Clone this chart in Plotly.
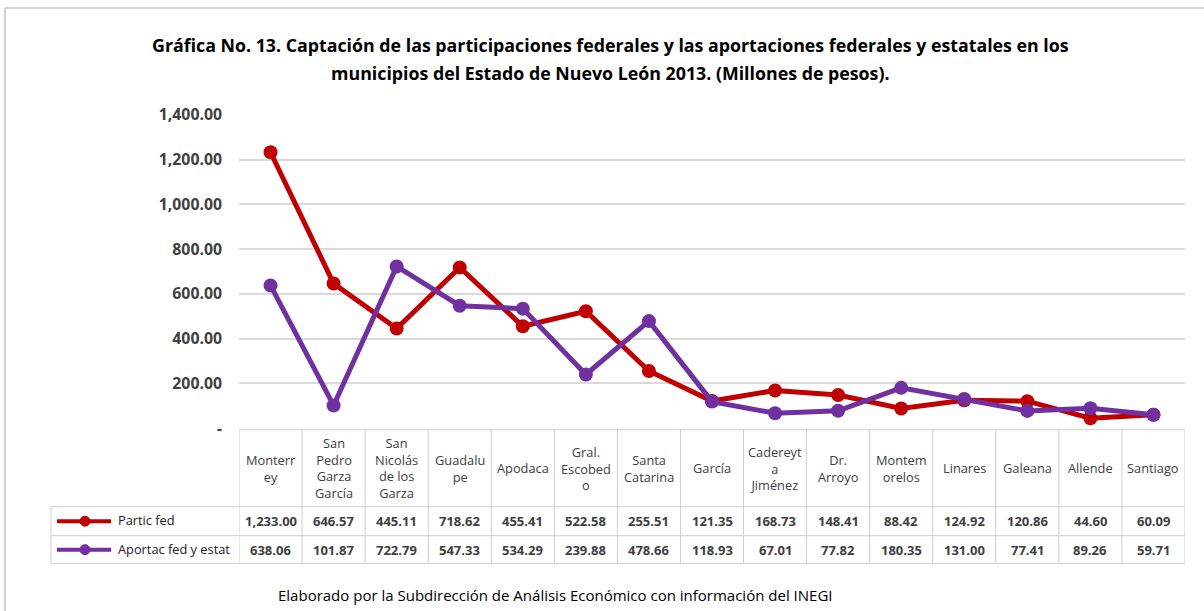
import plotly.graph_objects as go

# data
municipios = ["Monterr<br>ey", "San<br>Pedro<br>Garza<br>García", "San<br>Nicolás<br>de los<br>Garza",
              "Guadalu<br>pe", "Apodaca", "Gral.<br>Escobed<br>o", "Santa<br>Catarina", "García",
              "Cadereyt<br>a<br>Jiménez", "Dr.<br>Arroyo", "Montem<br>orelos", "Linares", "Galeana",
              "Allende", "Santiago"]
partic_fed = [1233.00, 646.57, 445.11, 718.62, 455.41, 522.58, 255.51, 121.35,
              168.73, 148.41, 88.42, 124.92, 120.86, 44.60, 60.09]
aportac_fed_estat = [638.06, 101.87, 722.79, 547.33, 534.29, 239.88, 478.66, 118.93,
                     67.01, 77.82, 180.35, 131.00, 77.41, 89.26, 59.71]
series_names = ["Partic fed", "Aportac fed y estat"]
y_tickvals = [0, 200, 400, 600, 800, 1000, 1200, 1400]
y_ticktext = ["-", "200.00", "400.00", "600.00", "800.00", "1,000.00", "1,200.00", "1,400.00"]

title_lines = ["Gráfica No. 13. Captación de las participaciones federales y las aportaciones federales y estatales en los",
               "municipios del Estado de Nuevo León 2013. (Millones de pesos)."]
footer_text = "Elaborado por la Subdirección de Análisis Económico con información del INEGI"

W, H = 1204, 611
FONT = "Open Sans, sans-serif"
RED = "#c00000"
PURPLE = "#7030a0"
GRID = "#d9d9d9"
TXT = "#404040"


def px(x):
    return x / W


def py(y):
    # pixel row in the picture -> paper fraction (corrected for how the page gets photographed)
    return 1 - ((y - 10.1) / 0.9644) / H


n = len(municipios)
xs = list(range(n))

fig = go.Figure()
for name, vals, col in [(series_names[0], partic_fed, RED), (series_names[1], aportac_fed_estat, PURPLE)]:
    fig.add_trace(go.Scatter(x=xs, y=vals, name=name, mode="lines+markers",
                             line=dict(color=col, width=5),
                             marker=dict(color=col, size=14),
                             showlegend=False, hoverinfo="y+name"))

shapes = []
annotations = []

# outer frame (left & top)
shapes.append(dict(type="line", xref="paper", yref="paper", x0=px(5), x1=px(5), y0=py(7), y1=-0.05,
                   line=dict(color="#d0d0d0", width=2)))
shapes.append(dict(type="line", xref="paper", yref="paper", x0=px(5), x1=1, y0=py(7), y1=py(7),
                   line=dict(color="#d0d0d0", width=2)))

# data table below the plot
t_top, t_head, t_r1, t_bot = 429, 506, 535, 563
tl = dict(color="#cfcfcf", width=1)
for i in range(n + 1):
    shapes.append(dict(type="line", xref="x", yref="paper", x0=i - 0.5, x1=i - 0.5,
                       y0=py(t_top), y1=py(t_bot), line=tl))
shapes.append(dict(type="line", xref="x", yref="paper", x0=-0.5, x1=n - 0.5,
                   y0=py(t_top), y1=py(t_top), line=tl))
for yy in [t_head, t_r1, t_bot]:
    shapes.append(dict(type="line", xref="paper", yref="paper", x0=px(51), x1=px(1185),
                       y0=py(yy), y1=py(yy), line=tl))
shapes.append(dict(type="line", xref="paper", yref="paper", x0=px(51), x1=px(51),
                   y0=py(t_head), y1=py(t_bot), line=tl))

for i, lab in enumerate(municipios):
    annotations.append(dict(x=i, y=py((t_top + t_head) / 2), xref="x", yref="paper", text=lab,
                            showarrow=False, yanchor="middle", align="center",
                            font=dict(family=FONT, size=12.8, color=TXT)))
for row, vals in [((t_head + t_r1) / 2, partic_fed), ((t_r1 + t_bot) / 2, aportac_fed_estat)]:
    for i, v in enumerate(vals):
        annotations.append(dict(x=i, y=py(row), xref="x", yref="paper", text=f"{v:,.2f}",
                                showarrow=False, yanchor="middle",
                                font=dict(family=FONT, size=13, color=TXT, weight="bold")))

# legend keys inside the table
for row, name, col in [((t_head + t_r1) / 2, series_names[0], RED), ((t_r1 + t_bot) / 2, series_names[1], PURPLE)]:
    shapes.append(dict(type="line", xref="paper", yref="paper", x0=px(57), x1=px(111),
                       y0=py(row), y1=py(row), line=dict(color=col, width=4)))
    shapes.append(dict(type="circle", xref="paper", yref="paper", x0=px(80), x1=px(90),
                       y0=py(row + 5), y1=py(row - 5), fillcolor=col, line=dict(color=col, width=1)))
    annotations.append(dict(x=px(116), y=py(row - 1), xref="paper", yref="paper", text=name,
                            showarrow=False, xanchor="left", yanchor="middle",
                            font=dict(family=FONT, size=12.8, color="#202020")))

for line, yy in zip(title_lines, [44, 72]):
    annotations.append(dict(x=px(610), y=py(yy), xref="paper", yref="paper", text=line,
                            showarrow=False, xanchor="center", yanchor="middle",
                            font=dict(family=FONT, size=17.8, color="#000000", weight="bold")))
annotations.append(dict(x=px(555), y=py(594), xref="paper", yref="paper", text=footer_text,
                        showarrow=False, xanchor="center", yanchor="middle",
                        font=dict(family=FONT, size=15, color="#000000")))

fig.update_layout(
    width=W, height=H,
    margin=dict(l=0, r=0, t=0, b=0),
    paper_bgcolor="white", plot_bgcolor="white",
    xaxis=dict(domain=[px(239), px(1185)], range=[-0.5, n - 0.5], showticklabels=False,
               showgrid=False, zeroline=False, fixedrange=True),
    yaxis=dict(domain=[py(427.5), py(114)], range=[0, 1400], tickvals=y_tickvals, ticktext=y_ticktext,
               showgrid=True, gridcolor=GRID, gridwidth=1.5, zeroline=False, ticks="", ticklabelstandoff=16,
               tickfont=dict(family=FONT, size=15.8, color=TXT, weight="bold"), fixedrange=True),
    shapes=shapes,
    annotations=annotations,
)

# pin the figure to the top-left corner of the page
pin = ("document.body.style.margin='0';document.body.style.overflow='hidden';"
       "var d=document.getElementById('{plot_id}');d.style.position='fixed';d.style.top='0';d.style.left='0';")
fig.write_html("out.html", config={"displayModeBar": False}, post_script=pin)
